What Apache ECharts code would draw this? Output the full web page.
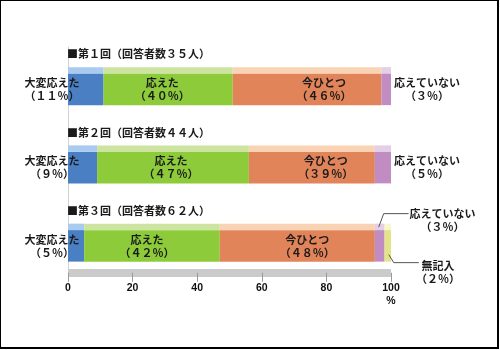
<!DOCTYPE html>
<html>
<head>
<meta charset="utf-8">
<script src="https://cdn.jsdelivr.net/npm/echarts@6/dist/echarts.min.js"></script>
<style>
html, body { margin: 0; padding: 0; background: #fff; }
#c { width: 500px; height: 350px; }
</style>
</head>
<body>
<div id="c"></div>
<script>
// Survey rounds and answer shares (%)
const rounds = ['第１回（回答者数３５人）', '第２回（回答者数４４人）', '第３回（回答者数６２人）'];
const responses = ['大変応えた', '応えた', '今ひとつ', '応えていない', '無記入'];
const veryWell = [11, 9, 5];
const well = [40, 47, 42];
const notQuite = [46, 39, 48];
const notMet = [3, 5, 3];
const noAnswer = [0, 0, 2];
const xTicks = [0, 20, 40, 60, 80, 100];

const seriesValues = [veryWell, well, notQuite, notMet, noAnswer];
const frontColors = ['#4a7fc3', '#8dcb3a', '#e2845a', '#c08cc1', '#e3e388'];
const topColors = ['#a9cbef', '#cde3a0', '#fad3b5', '#e4d0e6', '#f8f8cc'];
// horizontal nudges for the labels drawn inside segments
const innerShift = { 1: [-6, -2, -5], 2: [17, 14, 10] };

const FONT = '"Noto Sans CJK JP", "Noto Sans CJK SC", sans-serif';
const fw = n => String(n).replace(/[0-9]/g, d => String.fromCharCode(d.charCodeAt(0) + 0xFEE0));
const pct = v => '（' + fw(v) + '％）';

function txt(x, y, text, align) {
  return {
    type: 'text',
    style: {
      x: x, y: y, text: text,
      align: align || 'center', verticalAlign: 'middle',
      textAlign: align || 'center', textVerticalAlign: 'middle',
      font: 'bold 11px ' + FONT, fill: '#1a1a1a', lineHeight: 13
    }
  };
}
function leader(points) {
  return { type: 'polyline', shape: { points: points }, style: { stroke: '#555', lineWidth: 1, fill: null } };
}

function makeRender(k) {
  return function (params, api) {
    const s = api.value(0), e = api.value(1), i = api.value(2), v = api.value(3);
    if (!(e > s)) return;
    const a = api.coord([s, i]);
    const b = api.coord([e, i]);
    const x0 = api.coord([0, i])[0];
    const yc = a[1];
    const top = yc - 19, stripH = 6.5, front = top + stripH, bottom = yc + 19;
    const w = b[0] - a[0];
    const cx = (a[0] + b[0]) / 2;
    const midY = (front + bottom) / 2;
    const children = [
      { type: 'rect', shape: { x: a[0], y: top, width: w, height: stripH }, style: { fill: topColors[k] } },
      { type: 'rect', shape: { x: a[0], y: front, width: w, height: bottom - front }, style: { fill: frontColors[k] } }
    ];
    const label = responses[k] + '\n' + pct(v);
    if (k === 0) {
      children.push(txt(x0 - 1, top - 13, '■' + rounds[i], 'left'));
      children.push(txt(x0 - 16, midY, label));
    } else if (k === 1 || k === 2) {
      children.push(txt(cx + innerShift[k][i], midY, label));
    } else if (k === 3) {
      if (noAnswer[i] > 0) {
        children.push(leader([[cx - 1, top + 3.5], [cx + 4, top - 10], [b[0] + 24, top - 10]]));
        children.push(txt(b[0] + 58, top - 3, label));
      } else {
        children.push(txt(b[0] + 36, midY, label));
      }
    } else {
      children.push(leader([[cx + 1, bottom - 7], [cx + 6, bottom + 1], [cx + 31, bottom + 1]]));
      children.push(txt(b[0] + 47, bottom + 11, label));
    }
    return { type: 'group', children: children };
  };
}

const series = seriesValues.map((vals, k) => ({
  type: 'custom',
  name: responses[k],
  renderItem: makeRender(k),
  encode: { x: [0, 1], y: 2 },
  data: rounds.map((_, i) => {
    let start = 0;
    for (let j = 0; j < k; j++) start += seriesValues[j][i];
    return [start, start + vals[i], i, vals[i]];
  }),
  clip: false,
  silent: true
}));

const chart = echarts.init(document.getElementById('c'), null, { renderer: 'canvas' });
chart.setOption({
  animation: false,
  backgroundColor: '#fff',
  grid: { left: 68, right: 109, top: 47, bottom: 68.25, containLabel: false },
  xAxis: {
    type: 'value',
    min: xTicks[0],
    max: xTicks[xTicks.length - 1],
    interval: xTicks[1] - xTicks[0],
    position: 'bottom',
    offset: -9,
    axisLine: { show: true, lineStyle: { color: '#cbcbcb', width: 8, cap: 'butt' } },
    axisTick: { show: true, length: 9, lineStyle: { color: '#9a9a9a', width: 1 } },
    axisLabel: {
      margin: 9, color: '#111', fontSize: 10.5, fontWeight: 'bold',
      fontFamily: '"Liberation Sans", Arial, sans-serif', lineHeight: 13,
      formatter: v => (v === 100 ? '100\n%' : String(v))
    },
    splitLine: { show: false }
  },
  yAxis: {
    type: 'category',
    data: rounds,
    inverse: true,
    axisLine: { show: true, lineStyle: { color: '#d2d2d2', width: 1 } },
    axisTick: { show: false },
    axisLabel: { show: false },
    splitLine: { show: false }
  },
  series: series,
  graphic: [
    { type: 'rect', shape: { x: 0, y: 0, width: 1, height: 349 }, style: { fill: '#000' } },
    { type: 'rect', shape: { x: 0, y: 0, width: 499, height: 1 }, style: { fill: '#000' } },
    { type: 'rect', shape: { x: 497, y: 0, width: 2, height: 349 }, style: { fill: '#000' } },
    { type: 'rect', shape: { x: 0, y: 347, width: 499, height: 2 }, style: { fill: '#000' } }
  ]
});
</script>
</body>
</html>
